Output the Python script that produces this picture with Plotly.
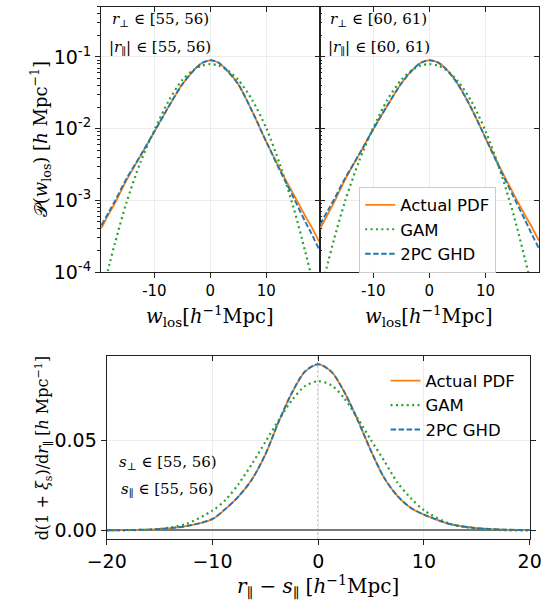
import plotly.graph_objects as go

W, H = 553, 613

# ---------------- data ----------------
# top panels: w_los grid
w_top = [-19.5, -18, -17, -15, -12.5, -10, -7.5, -5, -3, -1.5, 0, 1.5, 3, 5, 7.5, 10, 12.5, 15, 17, 18, 19.5]

# panel r_perp in [55,56)
p55_actual = [4.07e-4, 6.8e-4, 9.3e-4, 1.91e-3, 4.17e-3, 9.1e-3, 0.0200, 0.0417, 0.0646, 0.0822, 0.0899,
              0.0832, 0.0646, 0.0417, 0.0174, 6.6e-3, 2.69e-3, 1.17e-3, 6.0e-4, 4.4e-4, 2.63e-4]
p55_gam = [4.4e-5, 1.32e-4, 2.63e-4, 9.3e-4, 3.4e-3, 9.55e-3, 0.0240, 0.0479, 0.0661, 0.0759, 0.0794,
           0.0759, 0.0661, 0.0479, 0.0251, 0.0102, 3.09e-3, 7.4e-4, 1.9e-4, 9.3e-5, 2.8e-5]
p55_ghd = [4.47e-4, 7.2e-4, 1.0e-3, 2.0e-3, 4.2e-3, 9.1e-3, 0.0200, 0.0417, 0.0646, 0.0822, 0.0899,
           0.0832, 0.0646, 0.0417, 0.0174, 6.6e-3, 2.57e-3, 1.05e-3, 5.0e-4, 3.55e-4, 2.04e-4]

# panel r_perp in [60,61)
p60_actual = [3.98e-4, 6.6e-4, 9.3e-4, 1.95e-3, 4.37e-3, 9.8e-3, 0.0209, 0.0427, 0.0661, 0.0832, 0.0899,
              0.0841, 0.0676, 0.0427, 0.0191, 7.4e-3, 2.95e-3, 1.23e-3, 6.3e-4, 4.6e-4, 2.75e-4]
p60_gam = [4.8e-5, 1.41e-4, 2.82e-4, 9.8e-4, 3.55e-3, 0.0102, 0.0251, 0.0479, 0.0661, 0.0759, 0.0794,
           0.0759, 0.0661, 0.0468, 0.0240, 9.3e-3, 2.75e-3, 6.3e-4, 1.55e-4, 7.4e-5, 2.2e-5]
p60_ghd = [4.57e-4, 7.4e-4, 1.02e-3, 2.04e-3, 4.4e-3, 9.8e-3, 0.0209, 0.0427, 0.0661, 0.0832, 0.0899,
           0.0841, 0.0676, 0.0427, 0.0191, 7.4e-3, 2.82e-3, 1.12e-3, 5.4e-4, 3.7e-4, 2.14e-4]

# bottom panel: r_par - s_par grid
d_bot = [-20, -17.5, -15, -12.5, -10, -8.75, -7.5, -6.25, -5, -3.75, -2.5, -1.25, 0,
         1.25, 2.5, 3.75, 5, 6.25, 7.5, 8.75, 10, 12.5, 15, 17.5, 20]
bot_actual = [0.0001, 0.0003, 0.0008, 0.0024, 0.0063, 0.0120, 0.0190, 0.0285, 0.0420, 0.0600, 0.0760, 0.0880, 0.0922,
              0.0880, 0.0765, 0.0610, 0.0440, 0.0290, 0.0190, 0.0125, 0.0088, 0.0035, 0.0013, 0.0005, 0.0002]
bot_gam = [0.0000, 0.0002, 0.0009, 0.0036, 0.0110, 0.0170, 0.0260, 0.0370, 0.0490, 0.0610, 0.0720, 0.0800, 0.0827,
           0.0805, 0.0730, 0.0620, 0.0500, 0.0385, 0.0265, 0.0180, 0.0112, 0.0036, 0.0010, 0.0002, 0.0000]
bot_ghd = [0.0001, 0.0003, 0.0008, 0.0024, 0.0064, 0.0121, 0.0190, 0.0284, 0.0421, 0.0601, 0.0762, 0.0881, 0.0921,
           0.0879, 0.0764, 0.0609, 0.0440, 0.0291, 0.0191, 0.0126, 0.0088, 0.0035, 0.0013, 0.0005, 0.0002]

series_names = ["Actual PDF", "GAM", "2PC GHD"]
top_xticks = [-10, 0, 10]
top_xtext = ["-10", "0", "10"]
top_yticks = [1e-4, 1e-3, 1e-2, 1e-1]
top_ytext = ["10<sup>-4</sup>", "10<sup>-3</sup>", "10<sup>-2</sup>", "10<sup>-1</sup>"]
bot_xticks = [-20, -10, 0, 10, 20]
bot_xtext = ["\u221220", "\u221210", "0", "10", "20"]
bot_yticks = [0.0, 0.05]
bot_ytext = ["0.00", "0.05"]

# ---------------- style ----------------
C_ORANGE = "#ff7f0e"
C_GREEN = "#2ca02c"
C_BLUE = "#1f77b4"
styles = [dict(color=C_ORANGE, width=1.8, dash="solid"),
          dict(color=C_GREEN, width=2.2, dash="2px,3.4px"),
          dict(color=C_BLUE, width=1.9, dash="5.5px,2.5px")]
SANS = "DejaVu Sans"
SERIF = "DejaVu Serif, serif"
AX = "#222222"
GRID = "#ececec"


def px_x(p):
    return p / W


def px_y(p):
    return 1 - p / H


fig = go.Figure()

panels = [("x", "y", w_top, [p55_actual, p55_gam, p55_ghd], False, "legend"),
          ("x2", "y2", w_top, [p60_actual, p60_gam, p60_ghd], True, "legend"),
          ("x3", "y3", d_bot, [bot_actual, bot_gam, bot_ghd], True, "legend2")]
for xa, ya, xs, sers, show, leg in panels:
    for name, ys, st in zip(series_names, sers, styles):
        fig.add_trace(go.Scatter(x=xs, y=ys, mode="lines", name=name, xaxis=xa, yaxis=ya,
                                 line=dict(color=st["color"], width=st["width"], dash=st["dash"],
                                           shape="spline", smoothing=0.8),
                                 showlegend=show, legend=leg, hoverinfo="skip"))

# dummy traces for overlay axes
for xa, ya in [("x4", "y"), ("x5", "y2"), ("x6", "y3"), ("x", "y4"), ("x2", "y5")]:
    fig.add_trace(go.Scatter(x=[], y=[], xaxis=xa, yaxis=ya, showlegend=False, hoverinfo="skip"))

XR_TOP = [-19.55, 19.55]
XR_BOT = [-20.0001, 20.0001]
YR_TOP = [-4, -0.301]
YR_BOT = [-0.0048, 0.0964]
minor_vals = [m * 10 ** e for e in range(-4, 0) for m in range(2, 10)]

dom_top_y = [px_y(277), px_y(7)]
dom_x1 = [px_x(86), px_x(318)]
dom_x2 = [px_x(318), px_x(551)]
dom_x3 = [px_x(92), px_x(541)]
dom_bot_y = [px_y(549), px_y(363)]

common = dict(showline=True, linecolor=AX, linewidth=1.2, tickcolor=AX, tickwidth=1.1,
              gridcolor=GRID, gridwidth=0.8, zeroline=False, ticklabeloverflow="allow")
tick_over = dict(tickcolor=AX, tickwidth=1.1, zeroline=False, showgrid=False, showticklabels=False,
                 ticklen=5, tickmode="array")

lay = dict(
    width=W, height=H, margin=dict(l=0, r=0, t=0, b=0),
    paper_bgcolor="white", plot_bgcolor="white", showlegend=True,
    xaxis=dict(domain=dom_x1, anchor="y", range=XR_TOP, tickmode="array", tickvals=top_xticks,
               ticktext=top_xtext, ticks="outside", ticklen=5, mirror=True, showgrid=True,
               tickfont=dict(family=SANS, size=15, color="black"), **common),
    xaxis2=dict(domain=dom_x2, anchor="y2", range=XR_TOP, tickmode="array", tickvals=top_xticks,
                ticktext=top_xtext, ticks="outside", ticklen=5, mirror=True, showgrid=True,
                tickfont=dict(family=SANS, size=15, color="black"), **common),
    xaxis3=dict(domain=dom_x3, anchor="y3", range=XR_BOT, tickmode="array", tickvals=bot_xticks,
                ticktext=bot_xtext, ticks="outside", ticklen=5, mirror=True, showgrid=True,
                tickfont=dict(family=SANS, size=19, color="black"), **common),
    xaxis4=dict(overlaying="x", side="top", anchor="y", range=XR_TOP, tickvals=top_xticks,
                ticks="inside", **tick_over),
    xaxis5=dict(overlaying="x2", side="top", anchor="y2", range=XR_TOP, tickvals=top_xticks,
                ticks="inside", **tick_over),
    xaxis6=dict(overlaying="x3", side="top", anchor="y3", range=XR_BOT, tickvals=[-10, 0, 10],
                ticks="inside", **tick_over),
    yaxis=dict(domain=dom_top_y, anchor="x", type="log", range=YR_TOP, tickmode="array",
               tickvals=top_yticks, ticktext=top_ytext, ticks="outside", ticklen=5, mirror=True,
               showgrid=True, tickfont=dict(family=SANS, size=19, color="black"),
               minor=dict(tickmode="array", tickvals=minor_vals, ticks="outside", ticklen=2.5,
                          tickcolor=AX, tickwidth=0.8, showgrid=False), **common),
    yaxis2=dict(domain=dom_top_y, anchor="x2", type="log", range=YR_TOP, tickmode="array",
                tickvals=top_yticks, ticks="inside", ticklen=5, mirror=True, showticklabels=False,
                showgrid=True,
                minor=dict(tickmode="array", tickvals=minor_vals, ticks="inside", ticklen=2.5,
                           tickcolor=AX, tickwidth=0.8, showgrid=False), **common),
    yaxis3=dict(domain=dom_bot_y, anchor="x3", range=YR_BOT, tickmode="array", tickvals=bot_yticks,
                ticktext=bot_ytext, ticks="outside", ticklen=5, mirror="ticks", showgrid=True,
                tickfont=dict(family=SANS, size=19, color="black"),
                showline=True, linecolor=AX, linewidth=1.2, tickcolor=AX, tickwidth=1.1,
                gridcolor=GRID, gridwidth=0.8, zeroline=True, zerolinecolor="#7a7a7a",
                zerolinewidth=1.6, ticklabeloverflow="allow"),
    yaxis4=dict(overlaying="y", side="right", anchor="x", type="log", range=YR_TOP,
                tickvals=top_yticks, ticks="inside", **tick_over),
    yaxis5=dict(overlaying="y2", side="right", anchor="x2", type="log", range=YR_TOP,
                tickvals=top_yticks, ticks="inside", **tick_over),
    legend=dict(x=px_x(360), y=px_y(190), xanchor="left", yanchor="top",
                bgcolor="rgba(255,255,255,0.85)", bordercolor="#cccccc", borderwidth=1,
                font=dict(family=SANS, size=16.5, color="black"), tracegroupgap=0),
    legend2=dict(x=px_x(388), y=px_y(370), xanchor="left", yanchor="top",
                 bgcolor="rgba(255,255,255,0)", borderwidth=0,
                 font=dict(family=SANS, size=16.5, color="black"), tracegroupgap=0),
)
fig.update_layout(**lay)

# vertical dotted line at 0 in bottom panel
fig.add_shape(type="line", xref="x3", yref="y3 domain", x0=0, x1=0, y0=0, y1=1,
              line=dict(color="#8a8a8a", width=1.4, dash="2px,2.5px"), layer="below")

ann = []


def txt(x, y, s, size, angle=0, family=SERIF):
    ann.append(dict(x=px_x(x), y=px_y(y), xref="paper", yref="paper", text=s, showarrow=False,
                    xanchor="center", yanchor="middle", textangle=angle,
                    font=dict(family=family, size=size, color="black")))


PERP = "\u22a5"
PAR = "\u2225"
txt(149, 20, "<i>r</i><sub>" + PERP + "</sub> \u2208 [55, 56)", 15)
txt(149, 48, "|<i>r</i><sub>" + PAR + "</sub>| \u2208 [55, 56)", 15)
txt(381, 20, "<i>r</i><sub>" + PERP + "</sub> \u2208 [60, 61)", 15)
txt(381, 48, "|<i>r</i><sub>" + PAR + "</sub>| \u2208 [60, 61)", 15)
txt(157, 471, "<i>s</i><sub>" + PERP + "</sub> \u2208 [55, 56)", 15)
txt(157, 498, "<i>s</i><sub>" + PAR + "</sub> \u2208 [55, 56)", 15)
txt(202, 322, "<i>w</i><sub>los</sub>[<i>h</i><sup>\u22121</sup>Mpc]", 19.5)
txt(434, 322, "<i>w</i><sub>los</sub>[<i>h</i><sup>\u22121</sup>Mpc]", 19.5)
txt(316, 597, "<i>r</i><sub>" + PAR + "</sub> \u2212 <i>s</i><sub>" + PAR
    + "</sub> [<i>h</i><sup>\u22121</sup>Mpc]", 20)
txt(22, 142, "\U0001d4ab(<i>w</i><sub>los</sub>) [<i>h</i> Mpc<sup>\u22121</sup>]", 18, -90)
txt(25, 456, "d(1 + <i>\u03be</i><sub>s</sub>)/d<i>r</i><sub>" + PAR
    + "</sub> [<i>h</i> Mpc<sup>\u22121</sup>]", 16, -90)
fig.update_layout(annotations=ann)

fig.write_html("out.html")
